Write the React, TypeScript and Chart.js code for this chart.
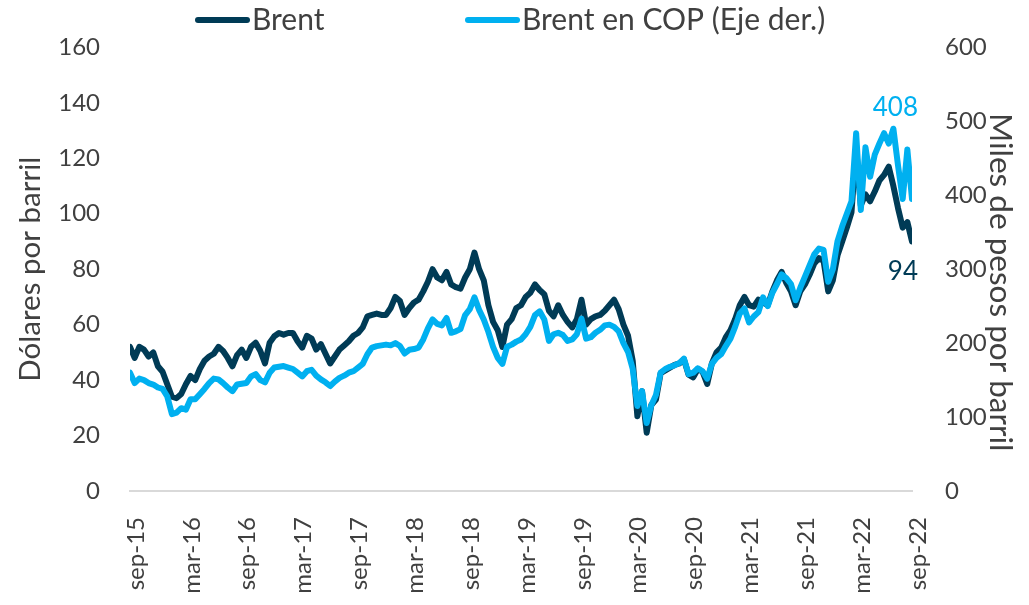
import { useEffect, useRef } from 'react';
import { Chart, registerables } from 'chart.js';

Chart.register(...registerables);

// Semi-monthly observations, sep-15 .. sep-22
const tickLabels = ['sep-15', 'mar-16', 'sep-16', 'mar-17', 'sep-17', 'mar-18', 'sep-18', 'mar-19', 'sep-19', 'mar-20', 'sep-20', 'mar-21', 'sep-21', 'mar-22', 'sep-22'];

const brent = [
  52, 48, 52, 51, 48.5, 50, 45, 43, 38.5, 34, 33.5, 35,
  38.5, 41.5, 40, 44, 47, 48.5, 49.5, 52, 50.5, 48, 45, 49,
  51, 48, 52, 53.5, 50.5, 46, 53.5, 55.8, 57, 56.4, 57, 57,
  54, 51.7, 56, 55, 51, 53, 49.5, 46, 48.5, 51, 52.5, 54,
  56, 57, 59, 63, 63.5, 64, 63.5, 63.5, 66, 70, 68.5, 63.5,
  66, 68, 69, 72, 75.5, 80, 77, 76, 79, 74.5, 73.5, 73,
  77, 80, 86, 80, 76, 67, 61, 58, 52, 60, 62, 66,
  67, 70, 71.5, 74.5, 72.5, 71, 65, 63, 67, 63.5, 61, 59,
  62, 69, 60, 62, 63, 63.5, 65, 67, 69, 65.5, 60, 56,
  47, 27, 36, 21, 31, 33, 42.5, 43.5, 44.5, 45.5, 46, 47.5,
  42, 41, 44, 43, 38.6, 46, 50, 51.7, 55.5, 58, 62, 67,
  70, 67, 66.5, 69, 68, 67, 72, 76, 79, 75, 72, 67,
  72, 74.5, 78, 82, 84, 83, 72, 76, 85, 90, 95, 100.5,
  124, 103, 107, 104.5, 108, 112, 114, 117, 110, 102, 95, 97,
  90,
];

const brentCop = [
  160, 146, 152, 150, 146, 144, 140, 138, 128, 104, 106, 112,
  110, 124, 124, 131, 138, 146, 152, 151, 146, 140, 135, 144,
  145, 146, 155, 158, 150, 147, 160, 167, 168, 169, 167, 165,
  160, 155, 162, 164, 156, 151, 147, 142, 148, 153, 156, 160,
  162, 167, 172, 185, 194, 196, 197, 198, 197, 200, 196, 186,
  191, 192, 194, 205, 220, 232, 226, 224, 234, 214, 216, 219,
  238, 246, 262, 245, 232, 215, 195, 180, 172, 195, 198, 202,
  205, 212, 222, 238, 243, 232, 203, 212, 214, 211, 203, 205,
  212, 233, 206, 208, 214, 218, 224, 225, 222, 216, 200, 188,
  165, 115, 135, 92, 116, 130, 160, 165, 168, 170, 173, 179,
  158, 160, 166, 162, 152, 172, 180, 185, 196, 206, 222, 240,
  247, 228, 236, 242, 262, 250, 268, 280, 293, 288, 280, 258,
  275, 290, 305, 320, 328, 326, 283, 300, 338, 358, 375, 392,
  484, 380, 465, 425, 455, 470, 484, 470, 490, 440, 395, 462,
  395,
];

// Last-value annotations: text, axis, anchor value on that axis
const endLabelTexts = ['408', '94'];
const endLabelAxes = ['y1', 'y'];
const endLabelAnchors = [519, 79];

const rightTitle = 'Miles de pesos por barril';

const DARK = '#003B56';
const LIGHT = '#00B0F0';
const TEXT = '#404040';
const FONT = 'Lato, "Noto Sans", sans-serif';

export default function App() {
  const ref = useRef<HTMLCanvasElement>(null);

  useEffect(() => {
    const months = brent.map((_, i) => i / 2);
    const lastMonth = months[months.length - 1];

    const legendPlugin = {
      id: 'customLegend',
      afterDraw(chart: any) {
        const ctx = chart.ctx;
        const xs = [195, 465];
        ctx.save();
        chart.data.datasets.forEach((ds: any, i: number) => {
          const x = xs[i];
          const y = 20;
          ctx.strokeStyle = ds.borderColor;
          ctx.lineWidth = 6;
          ctx.lineCap = 'round';
          ctx.beginPath();
          ctx.moveTo(x + 3, y);
          ctx.lineTo(x + 52, y);
          ctx.stroke();
          ctx.fillStyle = TEXT;
          ctx.font = `30px ${FONT}`;
          ctx.textAlign = 'left';
          ctx.textBaseline = 'middle';
          ctx.fillText(ds.label, x + 57, y);
        });
        // right axis title
        const s = chart.scales.y1;
        ctx.translate(1000, (s.top + s.bottom) / 2 + 13);
        ctx.rotate(Math.PI / 2);
        ctx.font = `31.5px ${FONT}`;
        ctx.textAlign = 'center';
        ctx.fillText(rightTitle, 0, 0);
        ctx.restore();
      },
    };

    const endLabelPlugin = {
      id: 'endLabels',
      afterDatasetsDraw(chart: any) {
        const ctx = chart.ctx;
        const x = chart.scales.x.getPixelForValue(lastMonth) + 6;
        ctx.save();
        ctx.font = `26px ${FONT}`;
        ctx.textAlign = 'right';
        ctx.textBaseline = 'middle';
        endLabelTexts.forEach((t, i) => {
          const scale = chart.scales[endLabelAxes[i]];
          ctx.fillStyle = endLabelAxes[i] === 'y1' ? LIGHT : DARK;
          ctx.fillText(t, x, scale.getPixelForValue(endLabelAnchors[i]));
        });
        ctx.restore();
      },
    };

    const chart = new Chart(ref.current!, {
      type: 'line',
      data: {
        datasets: [
          {
            label: 'Brent',
            data: months.map((m, i) => ({ x: m, y: brent[i] })),
            borderColor: DARK,
            backgroundColor: DARK,
            yAxisID: 'y',
            order: 1,
            borderWidth: 6,
            pointRadius: 0,
            tension: 0,
            borderJoinStyle: 'round',
            borderCapStyle: 'round',
          },
          {
            label: 'Brent en COP (Eje der.)',
            data: months.map((m, i) => ({ x: m, y: brentCop[i] })),
            borderColor: LIGHT,
            backgroundColor: LIGHT,
            yAxisID: 'y1',
            order: 0,
            borderWidth: 6,
            pointRadius: 0,
            tension: 0,
            borderJoinStyle: 'round',
            borderCapStyle: 'round',
          },
        ],
      },
      options: {
        animation: false,
        responsive: false,
        devicePixelRatio: 1,
        layout: { padding: { top: 41, left: 0, right: 0, bottom: 0 } },
        plugins: {
          legend: { display: false },
          tooltip: { enabled: false },
        },
        scales: {
          x: {
            type: 'linear',
            min: 0,
            max: 84,
            grid: { display: false, drawTicks: false },
            border: { display: true, color: '#D9D9D9', width: 2 },
            ticks: {
              stepSize: 6,
              autoSkip: false,
              minRotation: 90,
              maxRotation: 90,
              padding: 26,
              labelOffset: 6,
              color: TEXT,
              font: { family: FONT, size: 24 },
              callback: (v: any) => tickLabels[Math.round(Number(v) / 6)] ?? '',
            },
            afterFit: (s: any) => { s.height = 114; },
          },
          y: {
            position: 'left',
            min: 0,
            max: 160,
            grid: { display: false, drawTicks: false },
            border: { display: false },
            ticks: { stepSize: 20, padding: 30, color: TEXT, font: { family: FONT, size: 24 } },
            title: { display: true, text: 'Dólares por barril', color: TEXT, font: { family: FONT, size: 29.5 }, padding: 13 },
            afterFit: (s: any) => { s.width = 130; },
          },
          y1: {
            position: 'right',
            min: 0,
            max: 600,
            grid: { display: false, drawTicks: false },
            border: { display: false },
            ticks: { stepSize: 100, padding: 33, color: TEXT, font: { family: FONT, size: 24 } },
            afterFit: (s: any) => { s.width = 117; },
          },
        },
      },
      plugins: [legendPlugin, endLabelPlugin],
    } as any);

    return () => chart.destroy();
  }, []);

  return (
    <div style={{ position: 'absolute', left: 0, top: 0, width: 1029, height: 605, background: '#fff' }}>
      <canvas ref={ref} width={1029} height={605} style={{ display: 'block' }} />
    </div>
  );
}
